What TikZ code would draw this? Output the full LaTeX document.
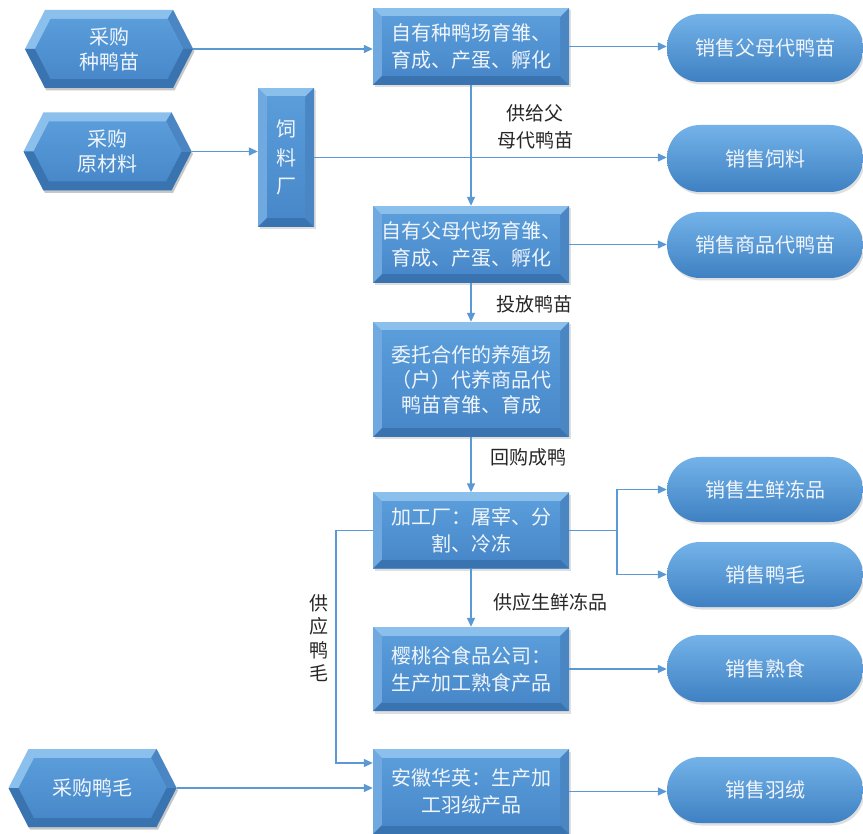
\documentclass[tikz,border=0pt]{standalone}
\usepackage{fontspec}
\setmainfont{Noto Sans CJK SC}
\usetikzlibrary{arrows.meta,calc,shadows}
\definecolor{boxlight}{HTML}{8CC0EC}
\definecolor{boxleft}{HTML}{6FA9DF}
\definecolor{boxright}{HTML}{4A86C4}
\definecolor{boxdark}{HTML}{3A74B0}
\definecolor{boxtop}{HTML}{5A9DDA}
\definecolor{boxbot}{HTML}{4888CA}
\definecolor{pilltop}{HTML}{74B3E9}
\definecolor{pillmid}{HTML}{5C9FDD}
\definecolor{pillbot}{HTML}{3E80C2}
\definecolor{linec}{HTML}{5A99D4}
\definecolor{txtc}{HTML}{F0F5FB}
\newcommand\mkhex[4]{%
  \fill[black,opacity=0.22,shift={(1.5,2.5)}] (#2-84,#3) -- (#2-64,#3-39) -- (#2+64,#3-39) -- (#2+84,#3) -- (#2+64,#3+39) -- (#2-64,#3+39) -- cycle;
  \fill[boxlight] (#2-84,#3) -- (#2-64,#3-39) -- (#2+64,#3-39) -- (#2+84,#3) -- (#2+64,#3+39) -- (#2-64,#3+39) -- cycle;
  \fill[boxright] (#2+84,#3) -- (#2+64,#3-39) -- (#2+58.5,#3-30) -- (#2+74,#3) -- cycle;
  \fill[boxdark] (#2-84,#3) -- (#2+84,#3) -- (#2+64,#3+39) -- (#2-64,#3+39) -- cycle;
  \shade[top color=boxtop,bottom color=boxbot] (#2-74,#3) -- (#2-58.5,#3-30) -- (#2+58.5,#3-30) -- (#2+74,#3) -- (#2+58.5,#3+30) -- (#2-58.5,#3+30) -- cycle;
  \node[hexlabel] (#1) at (#2,#3) {#4};
}
\begin{document}
\begin{tikzpicture}[x=1pt,y=-1pt,
  hexlabel/.style={rectangle,minimum width=168pt,minimum height=78pt,inner sep=0pt,text=txtc,align=center,font=\fontsize{20}{25}\selectfont},
  bevelbox/.style={rectangle,fill=boxlight,inner sep=0pt,text=txtc,align=center,font=\fontsize{20}{27}\selectfont,
    drop shadow={shadow xshift=1.5pt,shadow yshift=-2.5pt,opacity=0.25},
    path picture={
      \fill[boxleft] (path picture bounding box.south west) -- (path picture bounding box.north west) -- ++(9pt,-9pt) -- ($(path picture bounding box.south west)+(9pt,9pt)$) -- cycle;
      \fill[boxright] (path picture bounding box.south east) -- (path picture bounding box.north east) -- ++(-9pt,-9pt) -- ($(path picture bounding box.south east)+(-9pt,9pt)$) -- cycle;
      \fill[boxdark] (path picture bounding box.south west) -- (path picture bounding box.south east) -- ++(-9pt,9pt) -- ($(path picture bounding box.south west)+(9pt,9pt)$) -- cycle;
      \shade[top color=boxtop,bottom color=boxbot] ($(path picture bounding box.south west)+(9pt,9pt)$) rectangle ($(path picture bounding box.north east)+(-9pt,-9pt)$);
    }},
  mainbox/.style={bevelbox,minimum width=196pt},
  pill/.style={rectangle,rounded corners=33pt,minimum width=196pt,minimum height=66pt,inner sep=0pt,
    top color=pilltop,middle color=pillmid,bottom color=pillbot,text=txtc,font=\fontsize{20}{25}\selectfont,
    drop shadow={shadow xshift=1.5pt,shadow yshift=-2.5pt,opacity=0.25}},
  lbl/.style={text=black!85,align=center,font=\fontsize{19}{27}\selectfont,inner sep=0pt},
  arr/.style={draw=linec,line width=1.3pt,-{Triangle[length=9pt,width=8pt]}}
]
\useasboundingbox (0,0) rectangle (863,834);
\fill[white] (0,0) rectangle (863,834);

% left hexagons
\mkhex{h1}{109}{49}{采购\\种鸭苗}
\mkhex{h2}{107.5}{151.5}{采购\\原材料}
\mkhex{h3}{92.5}{788}{采购鸭毛}

% feed factory
\node[bevelbox,minimum width=56pt,minimum height=139pt,font=\fontsize{20}{28.5}\selectfont] (feed) at (286,157.5) {饲\\料\\厂};

% main column
\node[mainbox,minimum height=77pt] (r1) at (471,46.5) {自有种鸭场育雏、\\育成、产蛋、孵化};
\node[mainbox,minimum height=77pt] (r2) at (471,244.5) {自有父母代场育雏、\\育成、产蛋、孵化};
\node[mainbox,minimum height=115pt,font=\fontsize{20}{25}\selectfont] (r3) at (471,379.5) {委托合作的养殖场\\（户）代养商品代\\鸭苗育雏、育成};
\node[mainbox,minimum height=76pt] (r4) at (471,530.5) {加工厂：屠宰、分\\割、冷冻};
\node[mainbox,minimum height=84pt] (r5) at (471,669) {樱桃谷食品公司：\\生产加工熟食产品};
\node[mainbox,minimum height=85pt] (r6) at (471,791.5) {安徽华英：生产加\\工羽绒产品};

% pills
\node[pill,minimum height=68pt] (p1) at (765,48) {销售父母代鸭苗};
\node[pill,minimum height=67pt] (p2) at (765,158.5) {销售饲料};
\node[pill] (p3) at (765,245) {销售商品代鸭苗};
\node[pill,minimum height=65pt] (p4) at (765,489.5) {销售生鲜冻品};
\node[pill,minimum height=65pt] (p5) at (765,574.5) {销售鸭毛};
\node[pill,minimum height=67pt] (p6) at (765,668.5) {销售熟食};
\node[pill] (p7) at (765,790) {销售羽绒};

% labels
\node[lbl] (l1) at (535,126.5) {供给父\\母代鸭苗};
\node[lbl] (l2) at (534.5,304) {投放鸭苗};
\node[lbl] (l3) at (528.5,457) {回购成鸭};
\node[lbl] (l4) at (550.5,602) {供应生鲜冻品};
\node[lbl,font=\fontsize{19}{23.5}\selectfont] (l5) at (319,638) {供\\应\\鸭\\毛};

% connectors
\coordinate (elb) at (617,530.5);
\coordinate (featherL) at (336,530.5);
\draw[arr] (h1.east) -- (h1.east -| r1.west);
\draw[arr] (h2.east) -- (h2.east -| feed.west);
\draw[arr] (feed.east) -- (feed.east -| p2.west);
\draw[arr] (r1.east) -- (r1.east -| p1.west);
\draw[arr] (r1.south) -- (r2.north);
\draw[arr] (r2.east) -- (r2.east -| p3.west);
\draw[arr] (r2.south) -- (r3.north);
\draw[arr] (r3.south) -- (r4.north);
\draw[draw=linec,line width=1.3pt] (r4.east) -- (elb);
\draw[arr] (elb) |- (p4.west);
\draw[arr] (elb) |- (p5.west);
\draw[arr] (r4.south) -- (r5.north);
\draw[arr] (r5.east) -- (r5.east -| p6.west);
\draw[arr] (r4.west) -- (featherL) |- ([yshift=28.5pt]r6.west);
\draw[arr] (h3.east) -- (h3.east -| r6.west);
\draw[arr] (r6.east) -- (r6.east -| p7.west);
\end{tikzpicture}
\end{document}
